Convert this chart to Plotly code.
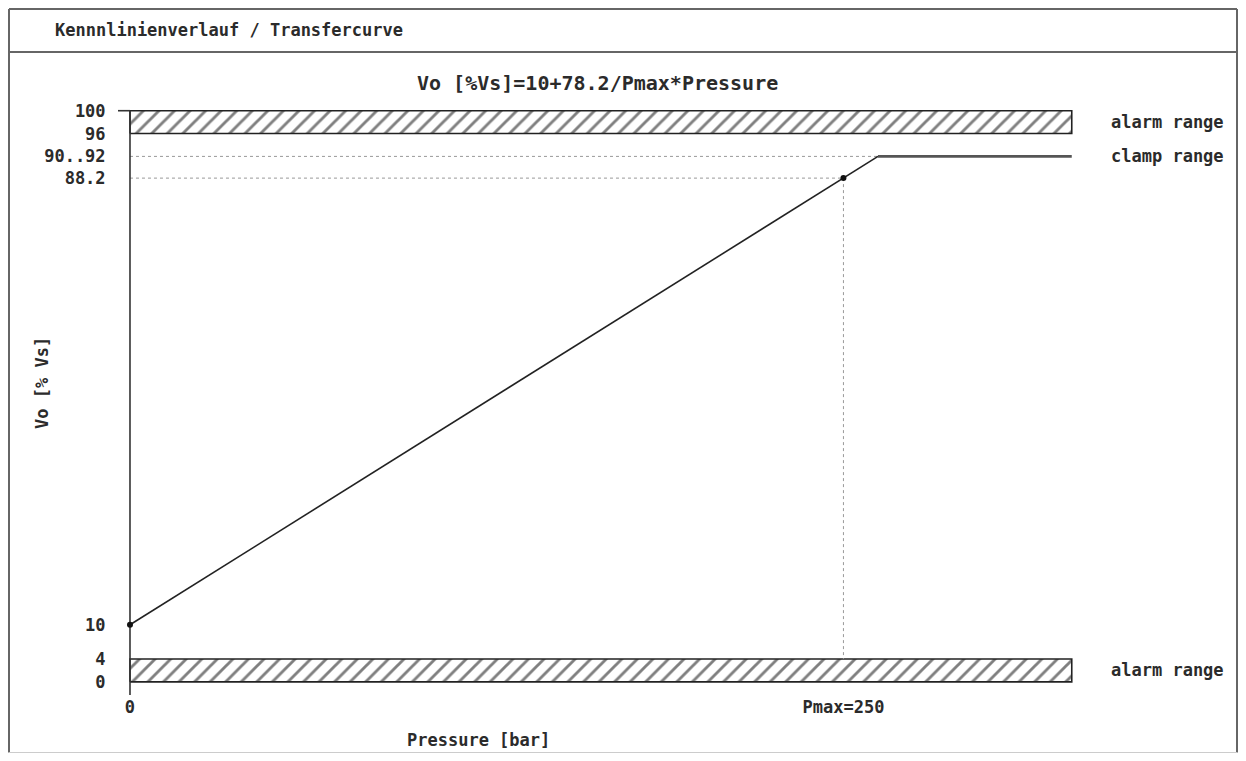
import plotly.graph_objects as go

# ---- data ----
curve_p = [0, 250, 262.1]
curve_v = [10, 88.2, 92]
clamp_p = [262.1, 330]
clamp_v = [92, 92]
point_p = [0, 250]
point_v = [10, 88.2]
alarm_high = [96, 100]
alarm_low = [0, 4]
p_end = 330
y_ticks = [0, 4, 10, 88.2, 92, 96, 100]
y_tick_text = ["0", "4", "10", "88.2", "90..92", "96", "100"]
x_ticks = [0, 250]
x_tick_text = ["0", "Pmax=250"]
range_labels = ["alarm range", "clamp range", "alarm range"]
range_label_v = [98, 92, 2]

# ---- layout geometry (page body has an 8px margin) ----
OFF = 8
FW, FH = 1230, 745
L, R, T, B = 110, 3, 97, 58
PW, PH = FW - L - R, FH - T - B
X_RANGE = [-4.2, 387.2]
Y_RANGE = [-2.3, 101.0]

def px(xp):
    return (xp - OFF - L) / PW

def py(yp):
    return (FH - B - (yp - OFF)) / PH

def fx(xf):  # figure pixel -> paper
    return (xf - L) / PW

def fy(yf):
    return (FH - B - yf) / PH

FONT = "DejaVu Sans Mono"
TXT = "#2b2b2b"

def f(size):
    return dict(family=FONT, size=size, color=TXT, weight="bold")

fig = go.Figure()

hatch = dict(shape="/", size=11, solidity=0.26, fgcolor="#000000", bgcolor="white")
for band in (alarm_high, alarm_low):
    fig.add_trace(go.Scatter(
        x=[0, p_end, p_end, 0, 0],
        y=[band[0], band[0], band[1], band[1], band[0]],
        mode="lines", fill="toself", fillpattern=hatch,
        fillcolor="white",
        line=dict(color="#222222", width=1.6),
        hoverinfo="skip", showlegend=False,
    ))

dot = dict(color="#999999", width=1, dash="dot")
fig.add_trace(go.Scatter(x=[0, clamp_p[0]], y=[clamp_v[0], clamp_v[0]], mode="lines",
                         line=dot, showlegend=False, hoverinfo="skip"))
fig.add_trace(go.Scatter(x=[0, point_p[1]], y=[point_v[1], point_v[1]], mode="lines",
                         line=dot, showlegend=False, hoverinfo="skip"))
fig.add_trace(go.Scatter(x=[point_p[1], point_p[1]], y=[point_v[1], alarm_low[1]], mode="lines",
                         line=dot, showlegend=False, hoverinfo="skip"))

# y axis line and top tick
fig.add_trace(go.Scatter(x=[0, 0], y=[Y_RANGE[0], alarm_high[1]], mode="lines",
                         line=dict(color="#333333", width=1.6), showlegend=False, hoverinfo="skip"))
fig.add_trace(go.Scatter(x=[X_RANGE[0], 0], y=[alarm_high[1], alarm_high[1]], mode="lines",
                         line=dict(color="#333333", width=1.6), showlegend=False, hoverinfo="skip"))

# transfer curve
fig.add_trace(go.Scatter(x=curve_p, y=curve_v, mode="lines",
                         line=dict(color="#222222", width=1.6), showlegend=False))
fig.add_trace(go.Scatter(x=clamp_p, y=clamp_v, mode="lines",
                         line=dict(color="#555555", width=2.6), showlegend=False))
fig.add_trace(go.Scatter(x=point_p, y=point_v, mode="markers",
                         marker=dict(color="#111111", size=6), showlegend=False, cliponaxis=False))

annotations = []
for lab, v in zip(range_labels, range_label_v):
    annotations.append(dict(x=343, y=v, xref="x", yref="y", text=lab, showarrow=False,
                            xanchor="left", yanchor="middle", font=f(17)))
annotations += [
    dict(x=px(53), y=py(30), xref="paper", yref="paper", text="Kennnlinienverlauf / Transfercurve",
         showarrow=False, xanchor="left", yanchor="middle", font=f(17)),
    dict(x=px(597), y=py(83), xref="paper", yref="paper", text="Vo [%Vs]=10+78.2/Pmax*Pressure",
         showarrow=False, xanchor="center", yanchor="middle", font=f(20)),
    dict(x=px(478), y=py(740), xref="paper", yref="paper", text="Pressure [bar]",
         showarrow=False, xanchor="center", yanchor="middle", font=f(17)),
    dict(x=px(42), y=py(383), xref="paper", yref="paper", text="Vo [% Vs]", textangle=-90,
         showarrow=False, xanchor="center", yanchor="middle", font=f(17)),
]

frame_col = "#666666"
left, right, top, bottom = fx(1), fx(FW - 1), fy(1), fy(FH - 0.5)
shapes = [
    dict(type="line", xref="paper", yref="paper", x0=left, x1=right, y0=top, y1=top,
         line=dict(color=frame_col, width=2)),
    dict(type="line", xref="paper", yref="paper", x0=left, x1=right, y0=py(52), y1=py(52),
         line=dict(color=frame_col, width=2)),
    dict(type="line", xref="paper", yref="paper", x0=left, x1=left, y0=top, y1=bottom,
         line=dict(color=frame_col, width=2)),
    dict(type="line", xref="paper", yref="paper", x0=right, x1=right, y0=top, y1=bottom,
         line=dict(color=frame_col, width=2)),
    dict(type="line", xref="paper", yref="paper", x0=left, x1=right, y0=bottom, y1=bottom,
         line=dict(color="#cccccc", width=1)),
]

fig.update_layout(
    width=FW, height=FH,
    margin=dict(l=L, r=R, t=T, b=B),
    paper_bgcolor="white", plot_bgcolor="white",
    showlegend=False,
    annotations=annotations, shapes=shapes,
    xaxis=dict(range=X_RANGE, showgrid=False, zeroline=False, showline=False,
               tickvals=x_ticks, ticktext=x_tick_text, ticks="",
               tickfont=f(17)),
    yaxis=dict(range=Y_RANGE, showgrid=False, zeroline=False, showline=False,
               tickvals=y_ticks, ticktext=y_tick_text, ticks="outside", ticklen=8,
               tickcolor="rgba(0,0,0,0)", tickfont=f(17)),
)

fig.write_html("out.html")
